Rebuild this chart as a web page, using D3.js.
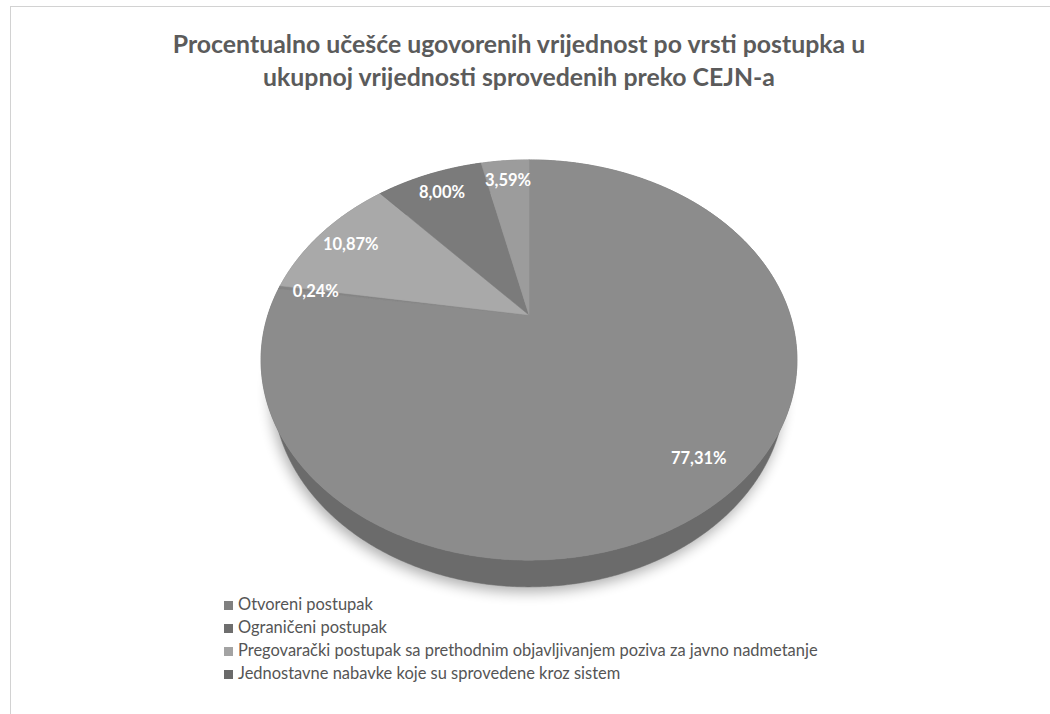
<!DOCTYPE html>
<html>
<head>
<meta charset="utf-8">
<script src="https://cdn.jsdelivr.net/npm/d3@7"></script>
<style>
  body { margin: 0; background: #fff; }
  svg { display: block; }
  text { font-family: Lato, "Open Sans", sans-serif; }
</style>
</head>
<body>
<svg id="chart" width="1050" height="714"></svg>
<script>
// data
var values = [77.31, 0.24, 10.87, 8.00, 3.59];
var legendLabels = [
  "Otvoreni postupak",
  "Ograničeni postupak",
  "Pregovarački postupak sa prethodnim objavljivanjem poziva za javno nadmetanje",
  "Jednostavne nabavke koje su sprovedene kroz sistem"
];
var titleLines = [
  "Procentualno učešće ugovorenih vrijednost po vrsti postupka u",
  "ukupnoj vrijednosti sprovedenih preko CEJN-a"
];
// scanned greys (top face, side, legend key)
var topColors  = ["#8c8c8c", "#858585", "#a9a9a9", "#7b7b7b", "#9c9c9c"];
var sideColors = ["#6b6b6b", "#666666", "#868686", "#5e5e5e", "#7a7a7a"];
var keyColors  = ["#808080", "#6e6e6e", "#a3a3a3", "#6a6a6a"];

var svg = d3.select("#chart");
var fmt = d3.formatLocale({decimal: ",", thousands: ".", grouping: [3], currency: ["", ""]}).format(".2f");

// chart frame
svg.append("rect")
  .attr("x", 10.5).attr("y", 6.5)
  .attr("width", 1100).attr("height", 800)
  .attr("fill", "#fff")
  .attr("stroke", "#d2d2d2");

// title, fitted to the width seen in the scan
var title = svg.append("g");
titleLines.forEach(function(t, i) {
  title.append("text")
    .attr("x", 519).attr("y", 53 + i * 33)
    .attr("text-anchor", "middle")
    .attr("font-weight", "bold")
    .attr("font-size", 20)
    .attr("fill", "#5b5b5b")
    .text(t);
});
var w0 = title.select("text").node().getComputedTextLength();
title.selectAll("text").attr("font-size", 20 * 693 / w0);

// perspective pie
var cx = 529, cy = 315;
var F = 796, R = 0.328, D = 1, T = 0.0595;
var tilt = 46.7 * Math.PI / 180;
var sn = Math.sin(tilt), cs = Math.cos(tilt);

function proj(u, v, h) {
  var Y = v * sn + h * cs, Z = D - v * cs + h * sn;
  return [cx + F * u / Z, cy + F * Y / Z];
}
function rim(a, h, f) {
  f = f || 1;
  return proj(R * f * Math.sin(a), -R * f * Math.cos(a), h);
}
function arcPts(a0, a1, h) {
  var n = Math.max(2, Math.ceil((a1 - a0) / 0.008));
  return d3.range(n + 1).map(function(i) { return rim(a0 + (a1 - a0) * i / n, h); });
}

var pie = d3.pie().sort(null).startAngle(0).endAngle(2 * Math.PI);
var slices = pie(values);
var line = d3.line();

// soft shadow under the disc
var defs = svg.append("defs");
defs.append("filter").attr("id", "blur")
  .attr("x", "-20%").attr("y", "-20%").attr("width", "140%").attr("height", "140%")
  .append("feGaussianBlur").attr("stdDeviation", 7);

svg.append("path")
  .attr("d", line(arcPts(0, 2 * Math.PI, T)) + "Z")
  .attr("transform", "translate(-2,5)")
  .attr("fill", "#000")
  .attr("opacity", 0.32)
  .attr("filter", "url(#blur)");

// outer walls
svg.append("g").selectAll("path")
  .data(slices)
  .join("path")
  .attr("d", function(d) {
    var top = arcPts(d.startAngle, d.endAngle, 0);
    var bot = arcPts(d.startAngle, d.endAngle, T).reverse();
    return line(top.concat(bot)) + "Z";
  })
  .attr("fill", function(d, i) { return sideColors[i]; })
  .attr("stroke", function(d, i) { return sideColors[i]; })
  .attr("stroke-width", 0.5);

// top faces
svg.append("g").selectAll("path")
  .data(slices)
  .join("path")
  .attr("d", function(d) {
    return line([proj(0, 0, 0)].concat(arcPts(d.startAngle, d.endAngle, 0))) + "Z";
  })
  .attr("fill", function(d, i) { return topColors[i]; })
  .attr("stroke", function(d, i) { return topColors[i]; })
  .attr("stroke-width", 0.5);

// percent labels
svg.append("g").selectAll("text")
  .data(slices)
  .join("text")
  .attr("transform", function(d) {
    var p = rim((d.startAngle + d.endAngle) / 2, 0, 0.85);
    return "translate(" + p[0] + "," + p[1] + ")";
  })
  .attr("text-anchor", "middle")
  .attr("dy", "0.35em")
  .attr("font-weight", "bold")
  .attr("font-size", 16.5)
  .attr("fill", "#fff")
  .text(function(d) { return fmt(d.value) + "%"; });

// legend (the scan only shows four rows)
var legend = svg.append("g");
var rows = legend.selectAll("g")
  .data(legendLabels)
  .join("g")
  .attr("transform", function(d, i) { return "translate(224," + (610 + i * 23) + ")"; });
rows.append("rect")
  .attr("x", 0).attr("y", -9)
  .attr("width", 9).attr("height", 9)
  .attr("fill", function(d, i) { return keyColors[i]; });
rows.append("text")
  .attr("x", 14)
  .attr("font-size", 15)
  .attr("fill", "#555")
  .text(function(d) { return d; });
var w3 = rows.filter(function(d, i) { return i === 2; }).select("text").node().getComputedTextLength();
rows.selectAll("text").attr("font-size", 15 * 580 / w3);
</script>
</body>
</html>
